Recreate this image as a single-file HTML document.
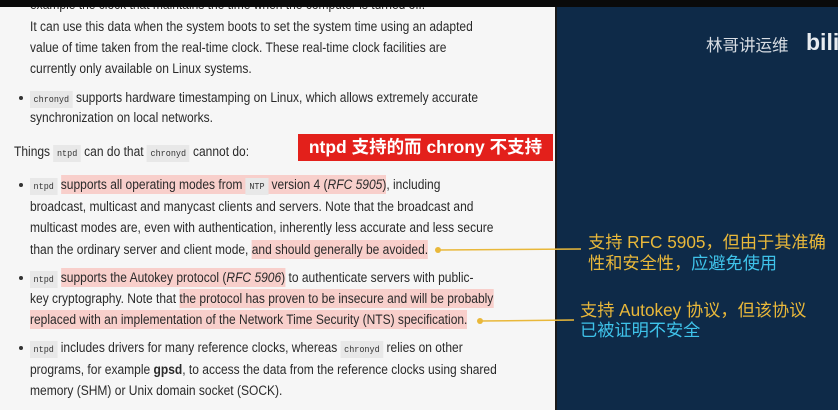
<!DOCTYPE html>
<html><head><meta charset="utf-8"><style>
body{margin:0;width:838px;height:410px;overflow:hidden;position:relative;background:#0e2a48;font-family:"Liberation Sans","Noto Sans CJK SC",sans-serif}
#page{position:absolute;left:0;top:0;width:555px;height:410px;background:#f6f6f6;border-right:2px solid #1a1a1a}
#topbar{position:absolute;left:0;top:0;width:838px;height:7px;background:#0a0a0a;z-index:5}
.l{position:absolute;white-space:nowrap;font-size:13.5px;color:#2a2a2a;line-height:20px;height:20px;transform:scaleX(0.89);transform-origin:left center}
.c{font-family:"Liberation Mono",monospace;font-size:9.5px;background:#e8e8e8;padding:3px 4px;color:#333}
.h{background:#f8cfcb;padding:2px 0}
.b{position:absolute;width:4px;height:4px;border-radius:50%;background:#333}
.y{color:#e9b83a}.cy{color:#3fc3ea}
.cn{position:absolute;white-space:nowrap;font-size:17.2px;line-height:21px;font-family:"Liberation Sans","Noto Sans CJK SC",sans-serif}
</style></head><body>
<div id="page"></div>
<div id="topbar"></div>
<div class="l" style="left:30px;top:-5px">example the clock that maintains the time when the computer is turned off.</div>
<div class="l" style="left:30px;top:17px">It can use this data when the system boots to set the system time using an adapted</div>
<div class="l" style="left:30px;top:38px">value of time taken from the real-time clock. These real-time clock facilities are</div>
<div class="l" style="left:30px;top:59px">currently only available on Linux systems.</div>
<div class="b" style="left:19px;top:96px"></div>
<div class="l" style="left:30px;top:88px"><span class="c">chronyd</span> supports hardware timestamping on Linux, which allows extremely accurate</div>
<div class="l" style="left:30px;top:108px">synchronization on local networks.</div>
<div class="l" style="left:14px;top:142px">Things <span class="c">ntpd</span> can do that <span class="c">chronyd</span> cannot do:</div>
<div style="position:absolute;left:298px;top:134px;width:255px;height:27px;background:#e3201b;color:#fff;font-weight:bold;font-size:17.5px;line-height:27px;text-align:center;white-space:nowrap">ntpd 支持的而 chrony 不支持</div>
<div class="b" style="left:19px;top:183px"></div>
<div class="l" style="left:30px;top:175px"><span class="c">ntpd</span> <span class="h">supports all operating modes from <span class="c">NTP</span> version 4 (<i>RFC 5905</i>)</span>, including</div>
<div class="l" style="left:30px;top:197px">broadcast, multicast and manycast clients and servers. Note that the broadcast and</div>
<div class="l" style="left:30px;top:218px">multicast modes are, even with authentication, inherently less accurate and less secure</div>
<div class="l" style="left:30px;top:240px">than the ordinary server and client mode, <span class="h">and should generally be avoided. </span></div>
<div class="b" style="left:19px;top:276px"></div>
<div class="l" style="left:30px;top:268px"><span class="c">ntpd</span> <span class="h">supports the Autokey protocol (<i>RFC 5906</i>)</span> to authenticate servers with public-</div>
<div class="l" style="left:30px;top:289px">key cryptography. Note that <span class="h">the protocol has proven to be insecure and will be probably</span></div>
<div class="l" style="left:30px;top:310px"><span class="h">replaced with an implementation of the Network Time Security (NTS) specification.</span></div>
<div class="b" style="left:19px;top:346px"></div>
<div class="l" style="left:30px;top:338px"><span class="c">ntpd</span> includes drivers for many reference clocks, whereas <span class="c">chronyd</span> relies on other</div>
<div class="l" style="left:30px;top:360px">programs, for example <b>gpsd</b>, to access the data from the reference clocks using shared</div>
<div class="l" style="left:30px;top:381px">memory (SHM) or Unix domain socket (SOCK).</div>
<svg style="position:absolute;left:0;top:0" width="838" height="410">
<line x1="438" y1="250" x2="581" y2="249" stroke="#e9b83a" stroke-width="1.5"/>
<circle cx="438" cy="250" r="3" fill="#e9b83a"/>
<line x1="480" y1="321" x2="574" y2="320" stroke="#e9b83a" stroke-width="1.5"/>
<circle cx="480" cy="321" r="3" fill="#e9b83a"/>
</svg>
<div class="cn y" style="left:588px;top:232px">支持 RFC 5905，但由于其准确</div>
<div class="cn" style="left:588px;top:253px"><span class="y">性和安全性，</span><span class="cy">应避免使用</span></div>
<div class="cn y" style="left:580px;top:300px">支持 Autokey 协议，但该协议</div>
<div class="cn cy" style="left:580px;top:320px">已被证明不安全</div>
<div style="position:absolute;left:706px;top:32px;font-size:16.5px;color:#d8dde3;white-space:nowrap">林哥讲运维</div>
<div style="position:absolute;left:806px;top:29px;font-size:23px;color:#e8ecf0;font-weight:bold;white-space:nowrap;font-family:'Liberation Sans',sans-serif">bili</div>
</body></html>
